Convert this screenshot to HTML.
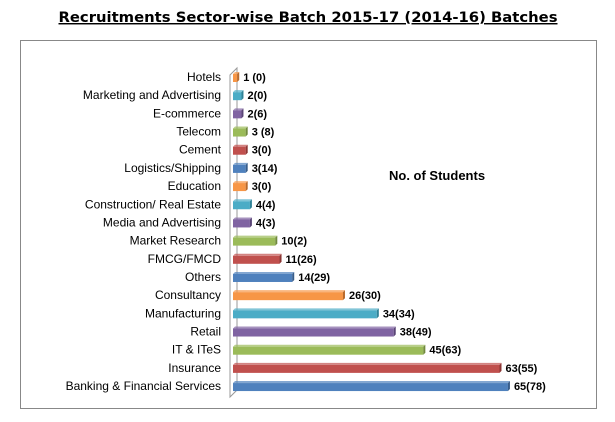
<!DOCTYPE html>
<html><head><meta charset="utf-8"><style>
body{margin:0;background:#fff;width:615px;height:422px;overflow:hidden}
svg{display:block}
</style></head><body>
<svg width="615" height="422">
<text x="308" y="22" text-anchor="middle" font-family="DejaVu Sans, sans-serif" font-weight="bold" font-size="14.5" text-decoration="underline" textLength="499" lengthAdjust="spacingAndGlyphs">Recruitments Sector-wise Batch 2015-17 (2014-16) Batches</text>
<rect x="20.5" y="40.5" width="576" height="368" fill="none" stroke="#888"/>
<polygon points="230,75 237,68 237,390 230,397" fill="#fff" stroke="#999"/>
<text x="389" y="180" font-family="Liberation Sans, sans-serif" font-weight="bold" font-size="13">No. of Students</text>
<g id="bars"></g>
</svg>
<script>
const categories=["Hotels","Marketing and Advertising","E-commerce","Telecom","Cement","Logistics/Shipping","Education","Construction/ Real Estate","Media and Advertising","Market Research","FMCG/FMCD","Others","Consultancy","Manufacturing","Retail","IT & ITeS","Insurance","Banking & Financial Services"];
const values=[1,2,2,3,3,3,3,4,4,10,11,14,26,34,38,45,63,65];
const labels=["1 (0)","2(0)","2(6)","3 (8)","3(0)","3(14)","3(0)","4(4)","4(3)","10(2)","11(26)","14(29)","26(30)","34(34)","38(49)","45(63)","63(55)","65(78)"];
const palette=["#f79646","#4bacc6","#8064a2","#9bbb59","#c0504d","#4f81bd"];
const darker=["#b86a2c","#2f8297","#5a4576","#71893e","#8c3533","#385d8a"];
const x0=233,scale=4.23,y0=77,step=18.18;
const xs=v=>x0+v*scale, ys=i=>y0+i*step;
const g=document.getElementById('bars');
const NS="http://www.w3.org/2000/svg";
categories.forEach((c,i)=>{
  const y=ys(i), w=Math.max(xs(values[i])-x0,3), col=palette[i%6];
  const r=document.createElementNS(NS,'rect');
  r.setAttribute('x',x0);r.setAttribute('y',y-3);r.setAttribute('width',w);r.setAttribute('height',8);
  r.setAttribute('fill',col);
  
  
  g.appendChild(r);
  const top=document.createElementNS(NS,'polygon');
  top.setAttribute('points',`${x0},${y-3} ${x0+2},${y-5} ${x0+w+2},${y-5} ${x0+w},${y-3}`);
  top.setAttribute('fill',col);top.setAttribute('opacity','0.7');
  
  
  g.appendChild(top);
  const side=document.createElementNS(NS,'polygon');
  side.setAttribute('points',`${x0+w},${y-3} ${x0+w+2},${y-5} ${x0+w+2},${y+3} ${x0+w},${y+5}`);
  side.setAttribute('fill',darker[i%6]);
  
  
  g.appendChild(side);
  const t=document.createElementNS(NS,'text');
  t.setAttribute('x',221);t.setAttribute('y',y+4);t.setAttribute('text-anchor','end');
  t.setAttribute('font-family','Liberation Sans, sans-serif');t.setAttribute('font-size','12');
  t.textContent=c;
  
  
  g.appendChild(t);
  const v=document.createElementNS(NS,'text');
  v.setAttribute('x',x0+w+6);v.setAttribute('y',y+4);
  v.setAttribute('font-family','Liberation Sans, sans-serif');v.setAttribute('font-size','11');v.setAttribute('font-weight','bold');
  v.textContent=labels[i];
  
  
  g.appendChild(v);
});
</script>
</body></html>
